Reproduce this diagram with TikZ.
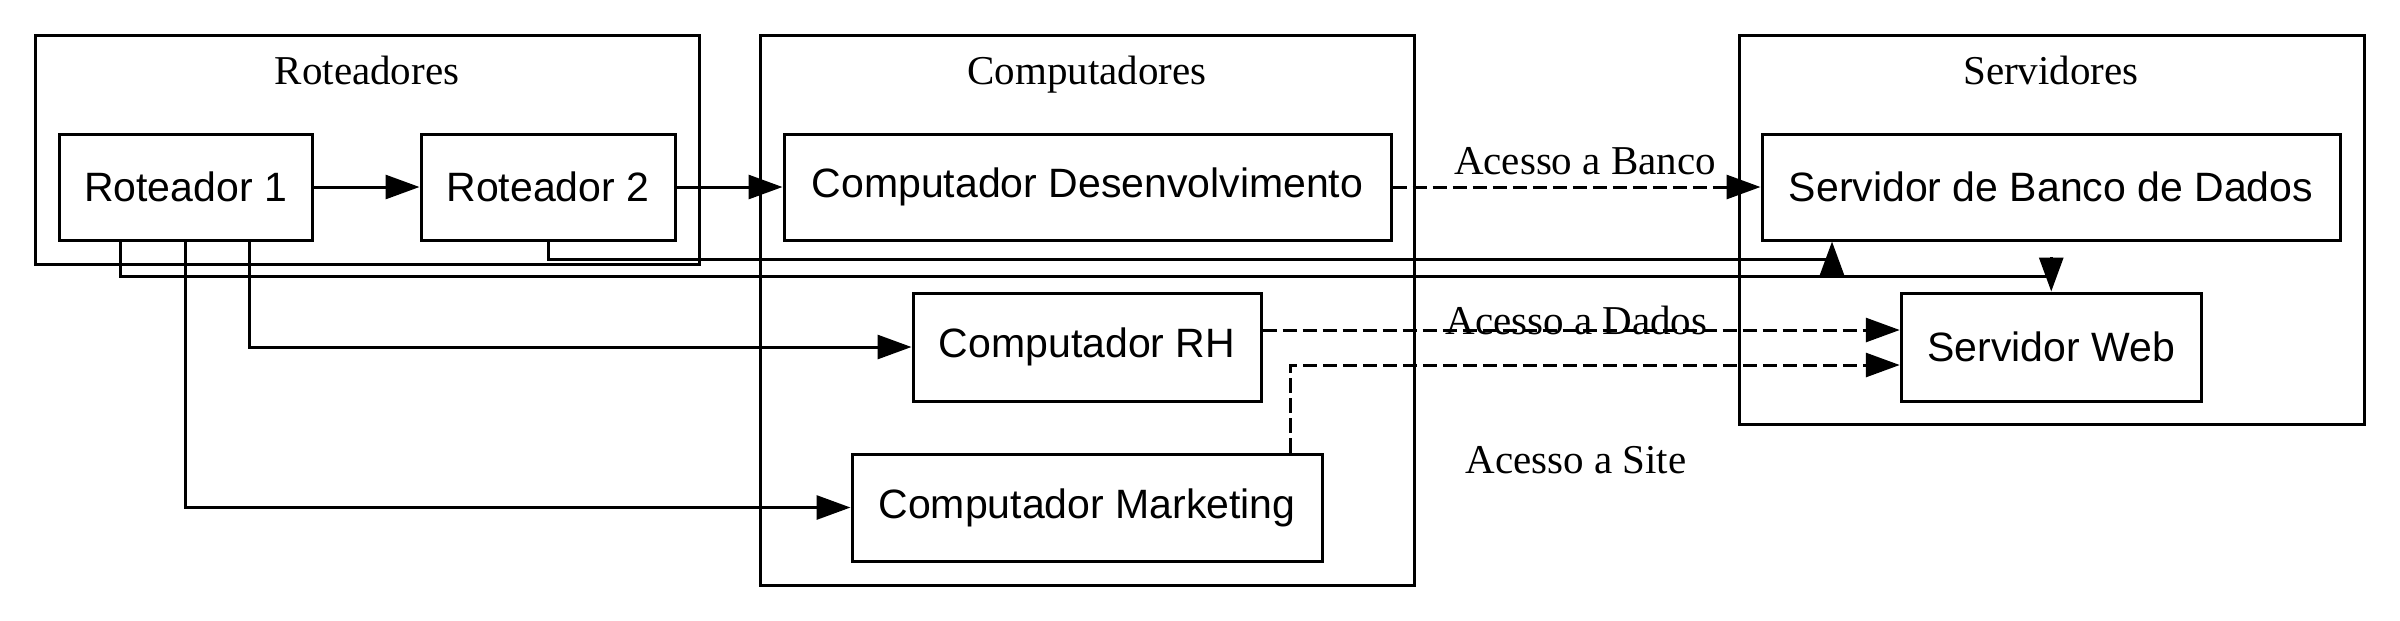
\documentclass[tikz,border=0pt]{standalone}
\usepackage{fontspec}
\setmainfont{Liberation Serif}
\newfontfamily\arialfont{Liberation Sans}
\usetikzlibrary{arrows.meta,calc}
\tikzset{
  box/.style={draw,line width=0.9pt,rectangle,inner sep=0pt,font=\arialfont\fontsize{12.3}{14}\selectfont},
  cluster/.style={draw,line width=0.9pt},
  title/.style={font=\fontsize{12.3}{14}\selectfont,inner sep=0pt,anchor=base},
  elabel/.style={font=\fontsize{12.3}{14}\selectfont,inner sep=0pt,anchor=base},
  conn/.style={line width=0.9pt,-{Triangle[length=10.2pt,width=7.2pt]}},
  plain/.style={line width=0.9pt},
  dconn/.style={conn,dash pattern=on 4.3pt off 1.7pt},
}
\begin{document}
\begin{tikzpicture}[x=0.3pt,y=-0.3pt]
\useasboundingbox (0,0) rectangle (2400,620);
% clusters
\draw[cluster] (35.7,35.6) rectangle (699,264);
\draw[cluster] (760.6,35.6) rectangle (1414,585);
\draw[cluster] (1739,35.6) rectangle (2364,424);
\node[title] (trot) at (367,84) {Roteadores};
\node[title] (tcomp) at (1087,84) {Computadores};
\node[title] (tserv) at (2051,84) {Servidores};
% nodes
\node[box,minimum width=75.9pt,minimum height=31.8pt] (r1) at (185.5,187) {Roteador 1};
\node[box,minimum width=76.2pt,minimum height=31.8pt] (r2) at (548,187) {Roteador 2};
\node[box,minimum width=182.1pt,minimum height=31.8pt] (dev) at (1087.5,187) {Computador Desenvolvimento};
\node[box,minimum width=104.4pt,minimum height=32.4pt] (rh) at (1087,347) {Computador RH};
\node[box,minimum width=141pt,minimum height=32.1pt] (mkt) at (1087,507.5) {Computador Marketing};
\node[box,minimum width=173.4pt,minimum height=31.8pt] (bd) at (2051,187) {Servidor de Banco de Dados};
\node[box,minimum width=90pt,minimum height=32.4pt] (web) at (2051.25,347) {Servidor Web};
% edge labels
\node[elabel] (lbanco) at (1585,174) {Acesso a Banco};
\node[elabel] (ldados) at (1576.5,334) {Acesso a Dados};
\node[elabel] (lsite) at (1576,473) {Acesso a Site};
% solid connectors
\draw[conn] (r1) -- (r2);
\draw[conn] (r2) -- (dev);
\draw[conn] ($(r1.south east)+(-64,0)$) |- (rh.west);
\draw[conn] (r1.south) |- (mkt.west);
\coordinate (p1) at (1832,259);
\coordinate (p2) at (1832,276);
\draw[plain] (r2.south) |- (p1);
\draw[conn] (p2) -- (p2 |- bd.south);
\coordinate (q1) at (2051.25,276);
\coordinate (q2) at (2051.25,257);
\draw[plain] ($(r1.south west)+(63,0)$) |- (q1);
\draw[conn] (q2) -- (web.north);
% dashed connectors
\draw[dconn] (dev) -- (bd);
\draw[dconn] ($(rh.east)+(0,-17)$) -- ($(web.west)+(0,-17)$);
\draw[dconn] ($(mkt.north west)+(440,0)$) |- ($(web.west)+(0,18)$);
\end{tikzpicture}
\end{document}
